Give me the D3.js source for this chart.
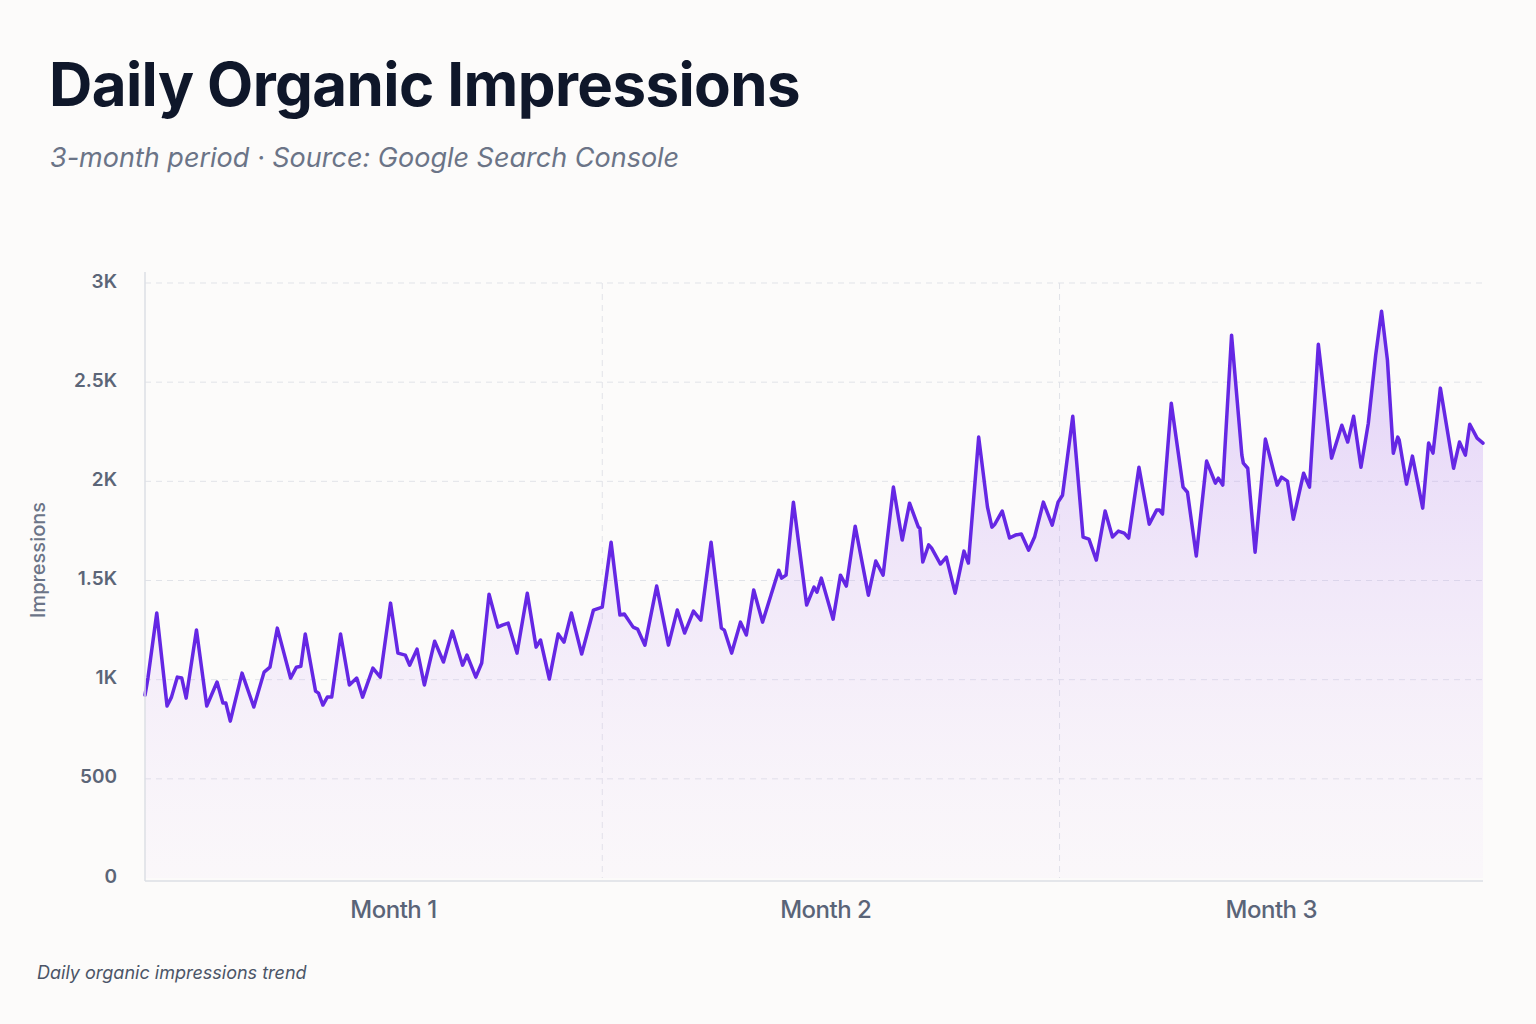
<!DOCTYPE html>
<html>
<head>
  <meta charset="utf-8">
  <script src="https://cdn.jsdelivr.net/npm/d3@7"></script>
  <style>
    body { margin: 0; background: #fcfbfa; }
    svg { display: block; font-family: Inter, "Noto Sans", sans-serif; }
  </style>
</head>
<body>
  <script type="text/javascript">
    // day position within the 3-month period, and impressions
    var days = [0.0, 0.2, 0.8, 1.5, 1.8, 2.2, 2.5, 2.8, 3.5, 4.2, 4.9, 5.3, 5.5, 5.8, 6.6, 7.4, 8.1, 8.5, 9.0, 9.9,
      10.3, 10.6, 10.9, 11.6, 11.8, 12.1, 12.4, 12.7, 13.3, 13.9, 14.4, 14.8, 15.5, 16.0, 16.7, 17.2, 17.7, 18.0, 18.5, 19.0,
      19.7, 20.3, 20.9, 21.6, 21.9, 22.5, 22.9, 23.4, 24.0, 24.3, 24.7, 25.3, 26.0, 26.6, 26.9, 27.5, 28.1, 28.5, 29.0, 29.7,
      30.5, 31.1, 31.7, 32.3, 32.6, 33.2, 33.5, 34.0, 34.8, 35.6, 36.2, 36.7, 37.3, 37.8, 38.5, 39.2, 39.4, 39.9, 40.5, 40.9,
      41.4, 42.0, 43.1, 43.3, 43.6, 44.1, 45.0, 45.5, 45.7, 46.0, 46.8, 47.3, 47.7, 48.3, 49.2, 49.7, 50.2, 50.9, 51.5, 52.0,
      52.6, 52.7, 52.9, 53.3, 53.5, 54.1, 54.5, 55.1, 55.7, 56.0, 56.7, 57.3, 57.6, 57.8, 58.3, 58.8, 59.2, 59.6, 60.1, 60.5,
      61.1, 61.7, 62.1, 62.4, 63.1, 63.8, 64.2, 64.7, 65.3, 65.8, 66.2, 66.6, 66.9, 67.6, 68.3, 68.8, 69.0, 69.2, 69.8, 70.6,
      70.9, 71.5, 72.2, 72.8, 73.0, 73.3, 73.9, 74.6, 74.7, 75.0, 75.5, 76.2, 77.0, 77.3, 77.7, 78.1, 78.8, 79.2, 79.8, 80.7,
      81.4, 81.8, 82.2, 82.7, 83.2, 83.7, 84.1, 84.5, 84.9, 85.2, 85.3, 85.8, 86.2, 86.9, 87.3, 87.6, 88.1, 89.0, 89.4, 89.8,
      90.1, 90.6, 91.0];
    var impressions = [922, 1008, 1336, 867, 912, 1013, 1008, 907, 1250, 867, 988, 882, 882, 791, 1033, 862, 1038, 1063, 1260, 1008,
      1063, 1068, 1230, 942, 932, 872, 912, 912, 1230, 973, 1008, 912, 1058, 1013, 1386, 1134, 1124, 1073, 1154, 973,
      1194, 1089, 1245, 1073, 1124, 1013, 1084, 1431, 1265, 1275, 1285, 1134, 1436, 1164, 1200, 1003, 1230, 1189, 1336, 1129,
      1351, 1366, 1693, 1326, 1331, 1265, 1255, 1174, 1472, 1174, 1351, 1235, 1346, 1300, 1693, 1260, 1250, 1134, 1290, 1225,
      1452, 1290, 1552, 1512, 1527, 1895, 1376, 1467, 1441, 1512, 1305, 1527, 1472, 1774, 1426, 1598, 1527, 1971, 1704, 1890,
      1769, 1764, 1593, 1680, 1663, 1583, 1618, 1436, 1648, 1588, 2223, 1870, 1769, 1784, 1850, 1714, 1729, 1734, 1653, 1719,
      1895, 1779, 1895, 1930, 2328, 1719, 1709, 1603, 1850, 1719, 1749, 1739, 1714, 2071, 1784, 1855, 1855, 1835, 2394, 1971,
      1945, 1623, 2102, 1991, 2016, 1981, 2737, 2132, 2092, 2066, 1643, 2213, 1981, 2021, 2001, 1809, 2041, 1971, 2691, 2117,
      2283, 2198, 2328, 2071, 2293, 2636, 2858, 2611, 2142, 2223, 2208, 1986, 2127, 1865, 2193, 2142, 2470, 2066, 2198, 2132,
      2288, 2218, 2193];

    var yTicks = [0, 500, 1000, 1500, 2000, 2500, 3000];
    var yTickLabels = ["0", "500", "1K", "1.5K", "2K", "2.5K", "3K"];
    var monthBounds = [31.1, 62.2];
    var monthTicks = [16.9, 46.3, 76.6];
    var monthLabels = ["Month 1", "Month 2", "Month 3"];

    var data = days.map(function (d, i) { return { day: d, value: impressions[i] }; });

    var W = 1536, H = 1024;
    var plotLeft = 145, plotRight = 1483, plotTop = 283, plotBottom = 878;

    var svg = d3.select("body").append("svg")
      .attr("width", W).attr("height", H);

    svg.append("rect").attr("width", W).attr("height", H).attr("fill", "#fcfbfa");

    var x = d3.scaleLinear().domain([0, 91]).range([plotLeft, plotRight]);
    var y = d3.scaleLinear().domain([0, 3000]).range([plotBottom, plotTop]);

    var defs = svg.append("defs");
    var grad = defs.append("linearGradient").attr("id", "fillGrad")
      .attr("gradientUnits", "userSpaceOnUse")
      .attr("x1", 0).attr("y1", y(2800)).attr("x2", 0).attr("y2", y(0));
    grad.append("stop").attr("offset", "0%").attr("stop-color", "#a46cf2").attr("stop-opacity", 0.3);
    grad.append("stop").attr("offset", "100%").attr("stop-color", "#e6cdf8").attr("stop-opacity", 0.08);

    // title block
    svg.append("text")
      .attr("x", 49).attr("y", 106)
      .style("font-size", "60px").style("font-weight", 700)
      .style("letter-spacing", "-0.6px")
      .attr("fill", "#0f172a")
      .text("Daily Organic Impressions");

    svg.append("text")
      .attr("x", 50).attr("y", 167)
      .style("font-size", "27px").style("font-style", "italic")
      .attr("fill", "#6b7487")
      .text("3-month period \u00b7 Source: Google Search Console");

    // horizontal grid
    svg.append("g").selectAll("line").data(yTicks.slice(1)).enter().append("line")
      .attr("x1", plotLeft).attr("x2", plotRight)
      .attr("y1", function (d) { return y(d); }).attr("y2", function (d) { return y(d); })
      .attr("stroke", "#e1e3e8").attr("stroke-width", 1).attr("stroke-dasharray", "6,5");

    // month separators
    svg.append("g").selectAll("line").data(monthBounds).enter().append("line")
      .attr("x1", function (d) { return x(d); }).attr("x2", function (d) { return x(d); })
      .attr("y1", plotTop).attr("y2", plotBottom)
      .attr("stroke", "#e1e3e8").attr("stroke-width", 1).attr("stroke-dasharray", "6,5");

    var area = d3.area()
      .x(function (d) { return x(d.day); })
      .y0(y(0))
      .y1(function (d) { return y(d.value); });

    svg.append("path").datum(data)
      .attr("d", area)
      .attr("fill", "url(#fillGrad)");

    var line = d3.line()
      .x(function (d) { return x(d.day); })
      .y(function (d) { return y(d.value); });

    svg.append("path").datum(data)
      .attr("d", line)
      .attr("fill", "none")
      .attr("stroke", "#6527e4")
      .attr("stroke-width", 3.5)
      .attr("stroke-linejoin", "round")
      .attr("stroke-linecap", "round");

    // axis lines
    svg.append("line").attr("x1", plotLeft).attr("x2", plotLeft).attr("y1", 272).attr("y2", plotBottom + 3)
      .attr("stroke", "#dcdfe5").attr("stroke-width", 1.5);
    svg.append("line").attr("x1", plotLeft).attr("x2", plotRight).attr("y1", plotBottom + 3).attr("y2", plotBottom + 3)
      .attr("stroke", "#dcdfe5").attr("stroke-width", 1.5);

    // y tick labels
    svg.append("g").selectAll("text").data(yTicks).enter().append("text")
      .attr("x", 117)
      .attr("y", function (d) { return y(d) - 2; })
      .attr("dy", "0.35em")
      .attr("text-anchor", "end")
      .style("font-size", "19px").style("font-weight", 600)
      .attr("fill", "#5b6577")
      .text(function (d, i) { return yTickLabels[i]; });

    svg.append("text")
      .attr("transform", "translate(45,560) rotate(-90)")
      .attr("text-anchor", "middle")
      .style("font-size", "20px").style("font-weight", 500)
      .attr("fill", "#6b7487")
      .text("Impressions");

    // month labels
    svg.append("g").selectAll("text").data(monthTicks).enter().append("text")
      .attr("x", function (d) { return x(d); })
      .attr("y", 918)
      .attr("text-anchor", "middle")
      .style("font-size", "24px").style("font-weight", 500)
      .style("letter-spacing", "-0.5px")
      .attr("fill", "#5a6478")
      .text(function (d, i) { return monthLabels[i]; });

    svg.append("text")
      .attr("x", 37).attr("y", 979)
      .style("font-size", "18px").style("font-style", "italic")
      .attr("fill", "#4b5567")
      .text("Daily organic impressions trend");
  </script>
</body>
</html>
